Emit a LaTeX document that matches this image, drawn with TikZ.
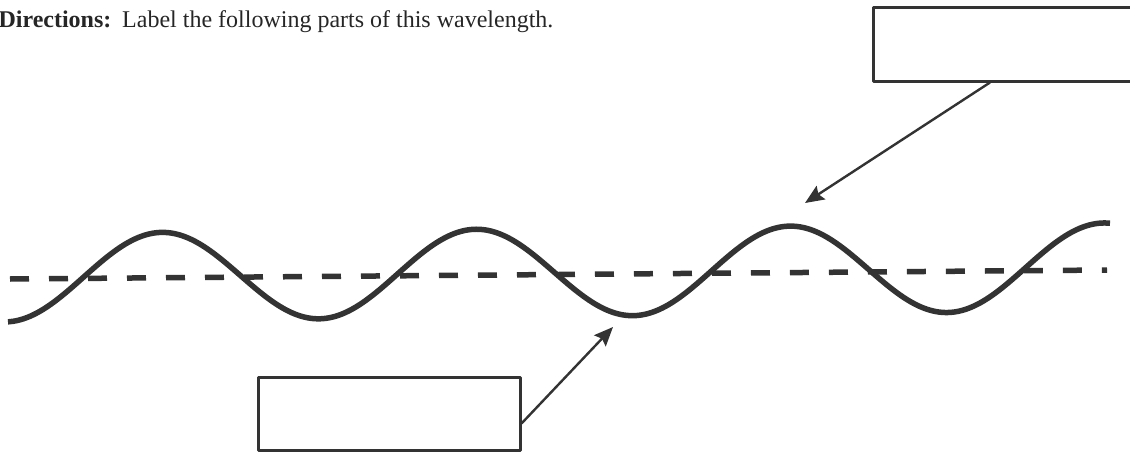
\documentclass[tikz,border=0pt]{standalone}
\usepackage{fontspec}
\setmainfont{Liberation Serif}
\usetikzlibrary{positioning,arrows.meta}

\begin{document}
\begin{tikzpicture}[>=stealth, x=1pt, y=1pt, line join=round]
\useasboundingbox (0,0) rectangle (1130,451);
\clip (0,0) rectangle (1130,451);

\tikzset{
  answerbox/.style={draw=black!80, line width=3pt, minimum width=262pt, minimum height=73pt, inner sep=0pt},
  wave/.style={draw=black!80, line width=5.5pt},
  axisline/.style={draw=black!80, line width=5.5pt, dash pattern=on 19pt off 20pt},
  pointer/.style={draw=black!80, line width=2.4pt, -{Stealth[length=19pt, width=16pt, inset=3pt]}}
}

\node[anchor=base west, font=\fontsize{24}{28}\selectfont, text=black!85] (dir) at (-5,423)
  {\textbf{Directions:}\hspace{0.45em}Label the following parts of this wavelength.};

% the boxes to write in
\node[answerbox, minimum width=268pt] (crestbox) at (1007,406.5) {};
\node[answerbox] (troughbox) at (389,37.5) {};

% where the arrows point
\coordinate (crest) at (805,248);
\coordinate (trough) at (613,124);

% rest line and wave
\draw[axisline] (10,172) -- (1107,181);
\draw[wave] plot[domain=8:1110, samples=220, smooth] (\x, {173+0.01*\x-44*cos((\x-5)/314*360)});

\draw[pointer] ([xshift=-17pt]crestbox.south) -- (crest);
\draw[pointer] ([yshift=-10pt]troughbox.east) -- (trough);
\end{tikzpicture}
\end{document}
